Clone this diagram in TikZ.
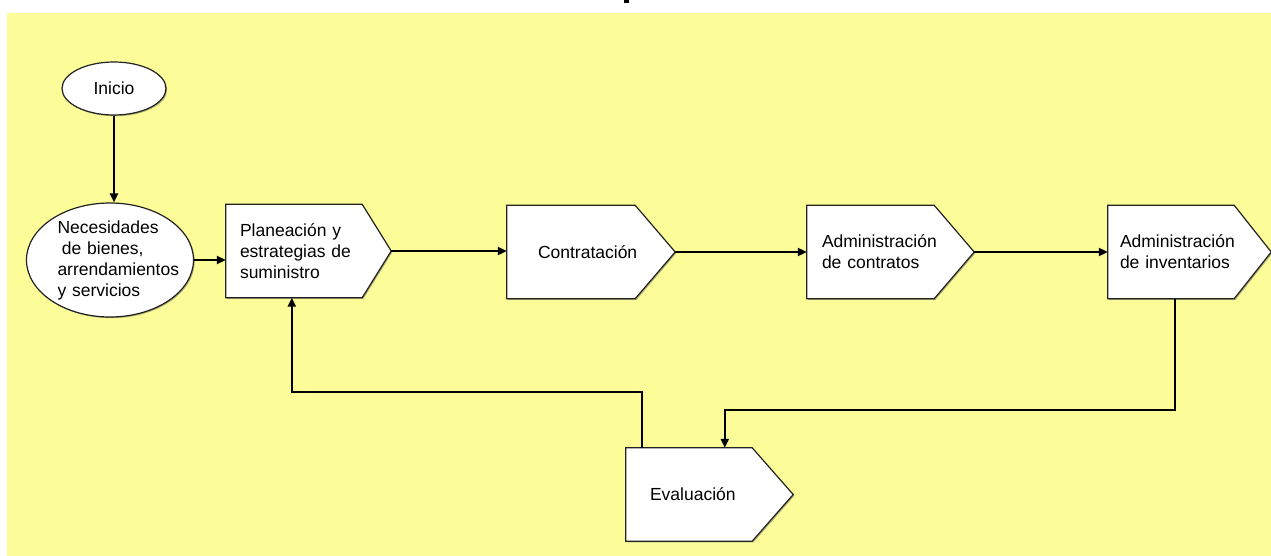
\documentclass[tikz,border=0pt]{standalone}
\usepackage{fontspec}
\setmainfont{Liberation Sans}
\usetikzlibrary{shapes.geometric,arrows.meta,backgrounds,shadows}
\definecolor{fondo}{RGB}{252,252,153}
\definecolor{borde}{RGB}{35,35,35}
\hyphenpenalty=10000
\exhyphenpenalty=10000

\begin{document}
\begin{tikzpicture}[x=1pt, y=-1pt,
    font=\fontsize{17.5}{21}\selectfont,
    sombra/.style={drop shadow={shadow xshift=1.2pt, shadow yshift=-1.2pt, opacity=0.45, fill=black!70}},
    paso/.style={rectangle, minimum height=93, inner xsep=#1, inner ysep=0pt, align=left},
    caja/.style={draw=borde, line width=1.2pt, fill=white, sombra},
    fin/.style={ellipse, draw=borde, line width=1.2pt, fill=white, inner sep=0pt, sombra},
    flecha/.style={line width=2pt, -{Triangle[length=9pt, width=8pt]}},
  ]
    \useasboundingbox (0,0) rectangle (1271,556);

    % nodos
    \node[fin, minimum width=104, minimum height=53] (inicio) at (114, 88.5) {Inicio};
    \node[fin, minimum width=167, minimum height=114, text width=105, align=left] (necesidades) at (110, 260)
      {Necesidades\\\hspace{0.25em}de~bienes,\\arrendamientos\\y~servicios};
    \node[paso=14, text width=108] (planeacion) at (294, 251) {Planeación~y\\estrategias~de\\suministro};
    \node[paso=31, text width=66] (contratacion) at (571, 252) {Contratación};
    \node[paso=15, text width=97] (contratos) at (870.5, 252) {Administración\\de~contratos};
    \node[paso=12, text width=102] (inventarios) at (1171, 252) {Administración\\de~inventarios};
    \node[paso=24, text width=78] (evaluacion) at (689, 494.5) {Evaluación};

    % fondo y cajas con punta
    \begin{scope}[on background layer]
      \fill[white] (0,0) rectangle (1271,556);
      \fill[fondo] (7,13) rectangle (1271,556);
      \fill[black] (624,0) rectangle (629,3);
      \foreach \n/\p in {planeacion/29, contratacion/40, contratos/40, inventarios/37, evaluacion/41}
        \draw[caja] (\n.north west) -- (\n.north east) -- ([xshift=\p]\n.east)
          -- (\n.south east) -- (\n.south west) -- cycle;
    \end{scope}

    % flechas
    \draw[flecha] (inicio) -- (inicio |- necesidades.north);
    \draw[flecha] (necesidades.east) -- (necesidades.east -| planeacion.west);
    \draw[flecha] ([xshift=29]planeacion.east) -- (contratacion.west |- planeacion.east);
    \draw[flecha] ([xshift=40]contratacion.east) -- (contratos.west |- contratacion.east);
    \draw[flecha] ([xshift=40]contratos.east) -- (inventarios.west |- contratos.east);
    \draw[flecha] ([xshift=67]inventarios.south west) -- ++(0,111) -| ([xshift=99]evaluacion.north west);
    \draw[flecha] ([xshift=16]evaluacion.north west) -- ++(0,-56) -| ([xshift=66]planeacion.south west);
\end{tikzpicture}
\end{document}
